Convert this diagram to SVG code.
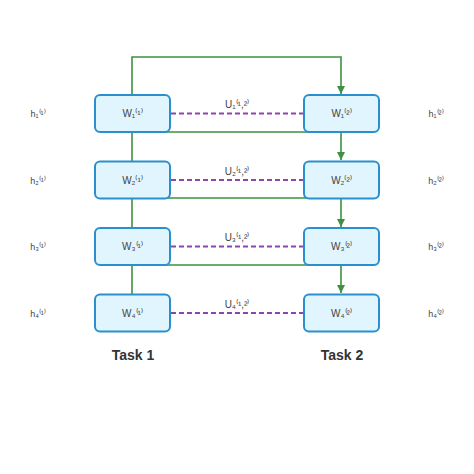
<svg xmlns="http://www.w3.org/2000/svg" width="474" height="474" viewBox="0 0 474 474">
<defs>
<marker id="ah" markerWidth="10" markerHeight="10" refX="9" refY="5" orient="auto" markerUnits="userSpaceOnUse">
<path d="M1,1 L9,5 L1,9 Z" fill="#3d9140"/>
</marker>
<style>
.node{fill:#e1f5fe;stroke:#2a8fce;stroke-width:2}
.lbl{font-family:"Liberation Sans",Arial,sans-serif;font-size:10px;fill:#444;text-anchor:middle;dominant-baseline:central}
.side{font-family:"Liberation Sans",Arial,sans-serif;font-size:9px;fill:#444;text-anchor:middle;dominant-baseline:central}
.task{font-family:"Liberation Sans",Arial,sans-serif;font-size:14px;font-weight:bold;fill:#333;text-anchor:middle}
.g{fill:none;stroke:#3d9140;stroke-width:1.6}
.u{fill:none;stroke:#8e44ad;stroke-width:1.8;stroke-dasharray:5,3}
</style>
</defs>
<rect width="474" height="474" fill="#ffffff"/>
<g id="connectors">
<path class="g" d="M132,95 V57 H341 V94" marker-end="url(#ah)"/>
<path class="g" d="M132,132 V161"/>
<path class="g" d="M132,198 V228"/>
<path class="g" d="M132,265 V294"/>
<path class="g" d="M132,132 H341 V160" marker-end="url(#ah)"/>
<path class="g" d="M132,198 H341 V227" marker-end="url(#ah)"/>
<path class="g" d="M132,265 H341 V293" marker-end="url(#ah)"/>
<line class="u" x1="171" y1="113.5" x2="303" y2="113.5"/>
<line class="u" x1="171" y1="180" x2="303" y2="180"/>
<line class="u" x1="171" y1="246.5" x2="303" y2="246.5"/>
<line class="u" x1="171" y1="313" x2="303" y2="313"/>
<text class="lbl" x="237" y="104">U₁⁽¹,²⁾</text>
<text class="lbl" x="237" y="171">U₂⁽¹,²⁾</text>
<text class="lbl" x="237" y="237">U₃⁽¹,²⁾</text>
<text class="lbl" x="237" y="304">U₄⁽¹,²⁾</text>
</g>
<g id="L1"><rect class="node" x="95" y="95" width="75" height="37" rx="5"/><text class="lbl" x="132.5" y="113.5">W₁⁽¹⁾</text></g>
<g id="L2"><rect class="node" x="95" y="161.5" width="75" height="37" rx="5"/><text class="lbl" x="132.5" y="180">W₂⁽¹⁾</text></g>
<g id="L3"><rect class="node" x="95" y="228" width="75" height="37" rx="5"/><text class="lbl" x="132.5" y="246.5">W₃⁽¹⁾</text></g>
<g id="L4"><rect class="node" x="95" y="294.5" width="75" height="37" rx="5"/><text class="lbl" x="132.5" y="313">W₄⁽¹⁾</text></g>
<g id="R1"><rect class="node" x="304" y="95" width="75" height="37" rx="5"/><text class="lbl" x="341.5" y="113.5">W₁⁽²⁾</text></g>
<g id="R2"><rect class="node" x="304" y="161.5" width="75" height="37" rx="5"/><text class="lbl" x="341.5" y="180">W₂⁽²⁾</text></g>
<g id="R3"><rect class="node" x="304" y="228" width="75" height="37" rx="5"/><text class="lbl" x="341.5" y="246.5">W₃⁽²⁾</text></g>
<g id="R4"><rect class="node" x="304" y="294.5" width="75" height="37" rx="5"/><text class="lbl" x="341.5" y="313">W₄⁽²⁾</text></g>
<g id="hL">
<text class="side" x="38" y="114">h₁⁽¹⁾</text>
<text class="side" x="38" y="180.5">h₂⁽¹⁾</text>
<text class="side" x="38" y="247">h₃⁽¹⁾</text>
<text class="side" x="38" y="313.5">h₄⁽¹⁾</text>
</g>
<g id="hR">
<text class="side" x="436" y="114">h₁⁽²⁾</text>
<text class="side" x="436" y="180.5">h₂⁽²⁾</text>
<text class="side" x="436" y="247">h₃⁽²⁾</text>
<text class="side" x="436" y="313.5">h₄⁽²⁾</text>
</g>
<g id="tasks">
<text class="task" x="133" y="360">Task 1</text>
<text class="task" x="342" y="360">Task 2</text>
</g>
</svg>
